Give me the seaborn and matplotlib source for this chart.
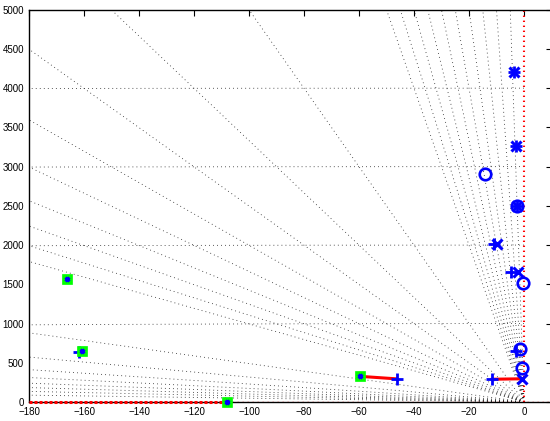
import numpy as np
import pandas as pd
import matplotlib
matplotlib.use("Agg")
import matplotlib.pyplot as plt
import seaborn as sns

# s-plane grid: constant damping ratio rays and constant natural frequency arcs
zeta_values = [0.001, 0.002, 0.003, 0.004, 0.005, 0.006, 0.007, 0.008, 0.009,
               0.01, 0.02, 0.03, 0.04, 0.05, 0.06, 0.07, 0.08, 0.09,
               0.1, 0.2, 0.3, 0.4, 0.5, 0.6, 0.7, 0.8, 0.9]
wn_values = [1000, 2000, 3000, 4000, 5000]

# closed-loop poles at the chosen gain (green squares)
sel_re = [-166.3, -160.8, -108.0, -59.6]
sel_im = [1573, 654, 0, 327]

# open-loop poles (x)
pole_re = [-3.6, -3.0, -2.7, -10.0, -2.3, -0.6]
pole_im = [4200, 3257, 2504, 2015, 1662, 290]

# open-loop zeros (o)
zero_re = [-14.2, -2.7, -0.2, -1.3, -0.6]
zero_im = [2904, 2504, 1522, 680, 438]

# branch end points (+)
plus_re = [-3.8, -3.0, -2.7, -11.0, -4.6, -3.0, -11.7, -46.3, -161.9]
plus_im = [4200, 3257, 2504, 2015, 1662, 650, 290, 295, 640]

# locus branches
branch_a_re = [-59.6, -53.0, -46.3]
branch_a_im = [327, 311, 295]
branch_b_re = [-11.7, -0.6]
branch_b_im = [290, 296]

sns.set_style("white")
plt.rcParams["font.family"] = ["Liberation Sans", "DejaVu Sans"]
plt.rcParams["lines.scale_dashes"] = False

fig = plt.figure(figsize=(5.5, 4.21), dpi=100)
ax = fig.add_axes([29 / 550, 19 / 421, 522.5 / 550, 392.3 / 421])

grid_kw = dict(color="#222222", lw=0.6, ls=(0, (0.6, 2.3)), zorder=1)

# damping rays from the origin
R = 9000.0
for z in zeta_values:
    ray = pd.DataFrame({"re": [0.0, -R * z], "im": [0.0, R * np.sqrt(1 - z * z)]})
    ax.plot(ray["re"], ray["im"], **grid_kw)

# natural frequency arcs
th = np.linspace(np.pi / 2, np.pi, 4000)
for wn in wn_values:
    ax.plot(wn * np.cos(th), wn * np.sin(th), **grid_kw)

# imaginary and real axis branches
ax.plot([0, 0], [0, 5000], color="red", lw=1.5, ls=(0, (1.0, 2.6)), zorder=2)
ax.plot([-108, 10], [0, 0], color="red", lw=1.0, ls=(0, (1.0, 2.6)), zorder=2)
ax.plot([-180, -108], [0, 0], color="red", lw=2.2, ls=(0, (2.2, 1.4)),
        zorder=6, clip_on=False)

# locus branches
sns.lineplot(x=branch_a_re, y=branch_a_im, estimator=None, sort=False,
             color="red", lw=2.2, ax=ax, zorder=4)
sns.lineplot(x=branch_b_re, y=branch_b_im, estimator=None, sort=False,
             color="red", lw=2.2, ax=ax, zorder=4)

# markers
sns.lineplot(x=plus_re, y=plus_im, estimator=None, sort=False, ls="",
             marker="+", markersize=9, mew=2.0, mec="blue",
             color="blue", ax=ax, zorder=5)
sns.lineplot(x=zero_re, y=zero_im, estimator=None, sort=False, ls="",
             marker="o", markersize=8.3, mew=1.9, mfc="none", mec="blue",
             color="blue", ax=ax, zorder=5)
sns.lineplot(x=pole_re, y=pole_im, estimator=None, sort=False, ls="",
             marker="x", markersize=7.3, mew=2.2, mec="blue",
             color="blue", ax=ax, zorder=5)
sns.lineplot(x=sel_re, y=sel_im, estimator=None, sort=False, ls="",
             marker="s", markersize=7.2, mew=0.5, mfc="#00ff00", mec="#00ff00",
             color="#00ff00", ax=ax, zorder=7)
ax.lines[-1].set_clip_on(False)
sns.lineplot(x=sel_re, y=sel_im, estimator=None, sort=False, ls="",
             marker="x", markersize=3.4, mew=2.2, mec="#0000ff",
             color="#0000ff", ax=ax, zorder=8)
ax.lines[-1].set_clip_on(False)

ax.set_xlim(-180, 10)
ax.set_ylim(0, 5000)
ax.set_xticks(np.arange(-180, 1, 20))
ax.set_yticks(np.arange(0, 5001, 500))
ax.tick_params(direction="in", length=4, width=0.8, labelsize=7, colors="black",
               top=True, right=True)
ax.tick_params(axis="x", pad=3.5)
ax.tick_params(axis="y", pad=3.5)
for s in ax.spines.values():
    s.set_color("black")
    s.set_linewidth(1.0)
ax.set_xlabel("")
ax.set_ylabel("")

fig.savefig("out.png", dpi=100)
